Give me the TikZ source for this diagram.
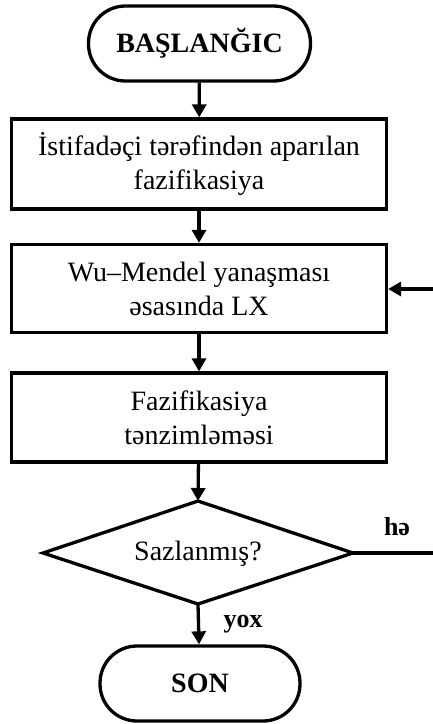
\documentclass[tikz,border=0pt]{standalone}
\usepackage{fontspec}
\setmainfont{Liberation Serif}
\usetikzlibrary{arrows.meta}
\begin{document}
\begin{tikzpicture}[x=1pt,y=-1pt,
  every node/.style={font=\fontsize{28}{34}\selectfont},
  term/.style={draw,line width=3.3pt,rectangle,rounded corners=37pt,minimum height=75pt,inner sep=0pt,font=\fontsize{28}{34}\selectfont\bfseries},
  proc/.style={draw,line width=3.3pt,rectangle,minimum width=375pt,inner sep=0pt,align=center},
  decline/.style={draw,line width=3.3pt,line join=miter},
  arr/.style={line width=3.3pt,-{Triangle[length=13pt,width=14pt]}},
  lab/.style={font=\fontsize{26}{30}\selectfont\bfseries}]
\useasboundingbox (0,0) rectangle (432,724);
\node[term,minimum width=222pt] (start) at (199.5,43.5) {BAŞLANĞIC};
\node[proc,minimum height=90pt] (b1) at (199,164) {İstifadəçi tərəfindən aparılan\\fazifikasiya};
\node[proc,minimum height=88pt] (b2) at (199,288.5) {Wu–Mendel yanaşması\\əsasında LX};
\node[proc,minimum height=89pt] (b3) at (199,417.5) {Fazifikasiya\\tənzimləməsi};
\node (d) at (198,554) {Sazlanmış?};
\coordinate (dN) at (198,501);
\coordinate (dE) at (353,553);
\coordinate (dS) at (198,604);
\coordinate (dW) at (43,553);
\draw[decline] (dN) -- (dE) -- (dS) -- (dW) -- cycle;
\node[term,minimum width=200pt] (end) at (200,683.5) {SON};
\node[lab] (he) at (397,527) {hə};
\node[lab] (yox) at (243,624) {yox};
\coordinate (r1) at (445,553);
\coordinate (r2) at (445,289);
\draw[arr] (start) -- (b1);
\draw[arr] (b1) -- (b2);
\draw[arr] (b2) -- (b3);
\draw[arr] (b3) -- (dN);
\draw[arr] (dS) -- (end);
\draw[line width=3.3pt] (dE) -- (r1) -- (r2);
\draw[arr] (r2) -- (b2.east |- r2);
\end{tikzpicture}
\end{document}
